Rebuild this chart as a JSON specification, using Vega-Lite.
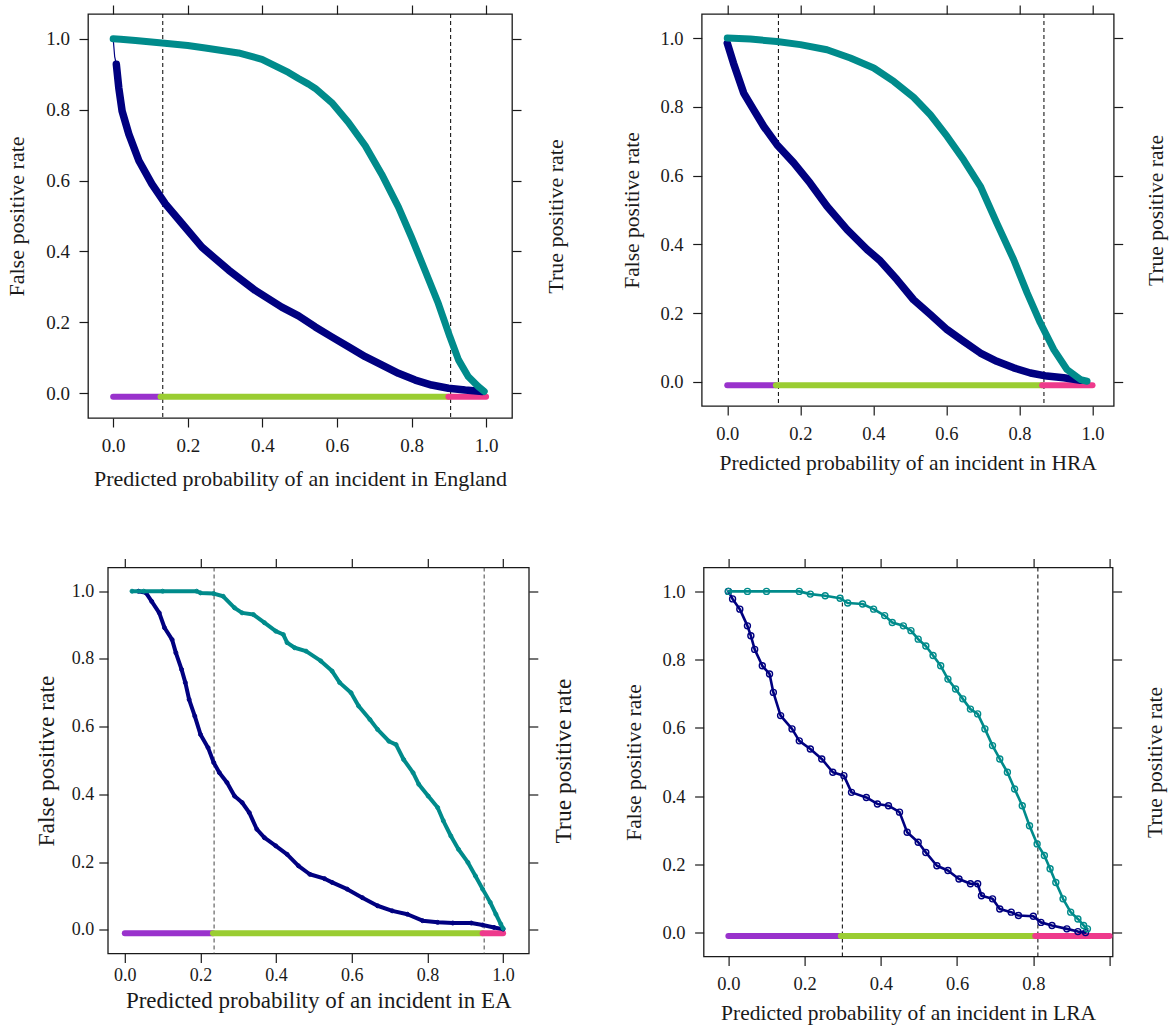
{
"$schema": "https://vega.github.io/schema/vega-lite/v6.json",
"background": "white",
"padding": {"left": 4, "top": 3, "right": 2, "bottom": 5},
"config": {
  "font": "Liberation Serif",
  "view": {"stroke": "#1a1a1a", "strokeWidth": 1.3},
  "axis": {"grid": false, "domain": false, "ticks": true, "tickColor": "#1a1a1a", "tickWidth": 1.2, "tickSize": 9, "labelColor": "#1a1a1a", "titleColor": "#1a1a1a", "labelFont": "Liberation Serif", "titleFont": "Liberation Serif", "titleFontWeight": "normal", "labelFlush": false, "labelOverlap": false, "labelBound": false},
  "line": {"strokeJoin": "round", "strokeCap": "round"}
},
"datasets": {
  "thr": [
    {"r": "England", "t": 0.133}, {"r": "England", "t": 0.905},
    {"r": "HRA", "t": 0.14}, {"r": "HRA", "t": 0.867},
    {"r": "EA", "t": 0.236}, {"r": "EA", "t": 0.95},
    {"r": "LRA", "t": 0.299}, {"r": "LRA", "t": 0.812}
  ],
  "seg": [
    {"r": "England", "z": "low", "a": 0, "b": 0.127}, {"r": "England", "z": "mid", "a": 0.127, "b": 0.899}, {"r": "England", "z": "high", "a": 0.899, "b": 1.0},
    {"r": "HRA", "z": "low", "a": 0, "b": 0.133}, {"r": "HRA", "z": "mid", "a": 0.133, "b": 0.862}, {"r": "HRA", "z": "high", "a": 0.862, "b": 1.0},
    {"r": "EA", "z": "low", "a": 0, "b": 0.233}, {"r": "EA", "z": "mid", "a": 0.233, "b": 0.946}, {"r": "EA", "z": "high", "a": 0.946, "b": 1.0},
    {"r": "LRA", "z": "low", "a": 0, "b": 0.295}, {"r": "LRA", "z": "mid", "a": 0.295, "b": 0.805}, {"r": "LRA", "z": "high", "a": 0.805, "b": 1.0}
  ],
  "curves": [
    {"r":"England","m":"TPR","p":0,"v":1.0},{"r":"England","m":"TPR","p":0.02,"v":0.999},{"r":"England","m":"TPR","p":0.06,"v":0.995},{"r":"England","m":"TPR","p":0.131,"v":0.988},{"r":"England","m":"TPR","p":0.2,"v":0.981},{"r":"England","m":"TPR","p":0.247,"v":0.974},{"r":"England","m":"TPR","p":0.336,"v":0.96},{"r":"England","m":"TPR","p":0.399,"v":0.942},{"r":"England","m":"TPR","p":0.47,"v":0.905},{"r":"England","m":"TPR","p":0.497,"v":0.888},{"r":"England","m":"TPR","p":0.524,"v":0.872},{"r":"England","m":"TPR","p":0.542,"v":0.86},{"r":"England","m":"TPR","p":0.586,"v":0.82},{"r":"England","m":"TPR","p":0.631,"v":0.764},{"r":"England","m":"TPR","p":0.676,"v":0.698},{"r":"England","m":"TPR","p":0.72,"v":0.618},{"r":"England","m":"TPR","p":0.765,"v":0.525},{"r":"England","m":"TPR","p":0.8,"v":0.44},{"r":"England","m":"TPR","p":0.836,"v":0.347},{"r":"England","m":"TPR","p":0.872,"v":0.253},{"r":"England","m":"TPR","p":0.903,"v":0.159},{"r":"England","m":"TPR","p":0.926,"v":0.094},{"r":"England","m":"TPR","p":0.952,"v":0.047},{"r":"England","m":"TPR","p":0.979,"v":0.019},{"r":"England","m":"TPR","p":0.995,"v":0.005},
    {"r":"England","m":"FPR","p":0,"v":1.0},{"r":"England","m":"FPR","p":0.004,"v":0.95},{"r":"England","m":"FPR","p":0.0085,"v":0.928},{"r":"England","m":"FPR","p":0.015,"v":0.862},{"r":"England","m":"FPR","p":0.024,"v":0.796},{"r":"England","m":"FPR","p":0.042,"v":0.731},{"r":"England","m":"FPR","p":0.069,"v":0.656},{"r":"England","m":"FPR","p":0.104,"v":0.59},{"r":"England","m":"FPR","p":0.14,"v":0.534},{"r":"England","m":"FPR","p":0.185,"v":0.478},{"r":"England","m":"FPR","p":0.238,"v":0.412},{"r":"England","m":"FPR","p":0.31,"v":0.347},{"r":"England","m":"FPR","p":0.381,"v":0.29},{"r":"England","m":"FPR","p":0.452,"v":0.243},{"r":"England","m":"FPR","p":0.497,"v":0.218},{"r":"England","m":"FPR","p":0.542,"v":0.187},{"r":"England","m":"FPR","p":0.586,"v":0.159},{"r":"England","m":"FPR","p":0.631,"v":0.131},{"r":"England","m":"FPR","p":0.676,"v":0.103},{"r":"England","m":"FPR","p":0.72,"v":0.08},{"r":"England","m":"FPR","p":0.765,"v":0.056},{"r":"England","m":"FPR","p":0.81,"v":0.037},{"r":"England","m":"FPR","p":0.854,"v":0.023},{"r":"England","m":"FPR","p":0.899,"v":0.014},{"r":"England","m":"FPR","p":0.944,"v":0.009},{"r":"England","m":"FPR","p":0.99,"v":0.005},
    {"r":"HRA","m":"TPR","p":0,"v":1.0},{"r":"HRA","m":"TPR","p":0.063,"v":0.997},{"r":"HRA","m":"TPR","p":0.136,"v":0.99},{"r":"HRA","m":"TPR","p":0.2,"v":0.981},{"r":"HRA","m":"TPR","p":0.273,"v":0.966},{"r":"HRA","m":"TPR","p":0.337,"v":0.942},{"r":"HRA","m":"TPR","p":0.401,"v":0.913},{"r":"HRA","m":"TPR","p":0.456,"v":0.874},{"r":"HRA","m":"TPR","p":0.51,"v":0.828},{"r":"HRA","m":"TPR","p":0.556,"v":0.777},{"r":"HRA","m":"TPR","p":0.602,"v":0.714},{"r":"HRA","m":"TPR","p":0.647,"v":0.646},{"r":"HRA","m":"TPR","p":0.693,"v":0.569},{"r":"HRA","m":"TPR","p":0.738,"v":0.462},{"r":"HRA","m":"TPR","p":0.784,"v":0.356},{"r":"HRA","m":"TPR","p":0.821,"v":0.259},{"r":"HRA","m":"TPR","p":0.857,"v":0.172},{"r":"HRA","m":"TPR","p":0.894,"v":0.094},{"r":"HRA","m":"TPR","p":0.93,"v":0.036},{"r":"HRA","m":"TPR","p":0.967,"v":0.007},{"r":"HRA","m":"TPR","p":0.985,"v":0.002},
    {"r":"HRA","m":"FPR","p":0,"v":0.985},{"r":"HRA","m":"FPR","p":0.017,"v":0.927},{"r":"HRA","m":"FPR","p":0.045,"v":0.84},{"r":"HRA","m":"FPR","p":0.072,"v":0.792},{"r":"HRA","m":"FPR","p":0.1,"v":0.743},{"r":"HRA","m":"FPR","p":0.136,"v":0.69},{"r":"HRA","m":"FPR","p":0.182,"v":0.637},{"r":"HRA","m":"FPR","p":0.227,"v":0.578},{"r":"HRA","m":"FPR","p":0.273,"v":0.511},{"r":"HRA","m":"FPR","p":0.328,"v":0.443},{"r":"HRA","m":"FPR","p":0.383,"v":0.385},{"r":"HRA","m":"FPR","p":0.419,"v":0.352},{"r":"HRA","m":"FPR","p":0.465,"v":0.297},{"r":"HRA","m":"FPR","p":0.51,"v":0.239},{"r":"HRA","m":"FPR","p":0.556,"v":0.196},{"r":"HRA","m":"FPR","p":0.602,"v":0.152},{"r":"HRA","m":"FPR","p":0.647,"v":0.118},{"r":"HRA","m":"FPR","p":0.693,"v":0.084},{"r":"HRA","m":"FPR","p":0.738,"v":0.06},{"r":"HRA","m":"FPR","p":0.784,"v":0.041},{"r":"HRA","m":"FPR","p":0.83,"v":0.026},{"r":"HRA","m":"FPR","p":0.875,"v":0.017},{"r":"HRA","m":"FPR","p":0.921,"v":0.012},{"r":"HRA","m":"FPR","p":0.967,"v":0.005},
    {"r":"EA","m":"TPR","p":0.019,"v":1.0},{"r":"EA","m":"TPR","p":0.05,"v":1.0},{"r":"EA","m":"TPR","p":0.1,"v":1.0},{"r":"EA","m":"TPR","p":0.19,"v":1.0},{"r":"EA","m":"TPR","p":0.2,"v":0.995},{"r":"EA","m":"TPR","p":0.235,"v":0.993},{"r":"EA","m":"TPR","p":0.26,"v":0.985},{"r":"EA","m":"TPR","p":0.29,"v":0.951},{"r":"EA","m":"TPR","p":0.31,"v":0.936},{"r":"EA","m":"TPR","p":0.34,"v":0.931},{"r":"EA","m":"TPR","p":0.369,"v":0.907},{"r":"EA","m":"TPR","p":0.399,"v":0.882},{"r":"EA","m":"TPR","p":0.419,"v":0.872},{"r":"EA","m":"TPR","p":0.429,"v":0.848},{"r":"EA","m":"TPR","p":0.449,"v":0.833},{"r":"EA","m":"TPR","p":0.479,"v":0.823},{"r":"EA","m":"TPR","p":0.518,"v":0.794},{"r":"EA","m":"TPR","p":0.548,"v":0.764},{"r":"EA","m":"TPR","p":0.568,"v":0.73},{"r":"EA","m":"TPR","p":0.598,"v":0.7},{"r":"EA","m":"TPR","p":0.618,"v":0.661},{"r":"EA","m":"TPR","p":0.648,"v":0.621},{"r":"EA","m":"TPR","p":0.668,"v":0.592},{"r":"EA","m":"TPR","p":0.698,"v":0.557},{"r":"EA","m":"TPR","p":0.717,"v":0.547},{"r":"EA","m":"TPR","p":0.737,"v":0.503},{"r":"EA","m":"TPR","p":0.762,"v":0.464},{"r":"EA","m":"TPR","p":0.777,"v":0.43},{"r":"EA","m":"TPR","p":0.802,"v":0.395},{"r":"EA","m":"TPR","p":0.827,"v":0.361},{"r":"EA","m":"TPR","p":0.842,"v":0.322},{"r":"EA","m":"TPR","p":0.862,"v":0.277},{"r":"EA","m":"TPR","p":0.882,"v":0.238},{"r":"EA","m":"TPR","p":0.907,"v":0.199},{"r":"EA","m":"TPR","p":0.927,"v":0.159},{"r":"EA","m":"TPR","p":0.946,"v":0.12},{"r":"EA","m":"TPR","p":0.966,"v":0.081},{"r":"EA","m":"TPR","p":0.981,"v":0.046},{"r":"EA","m":"TPR","p":0.994,"v":0.017},{"r":"EA","m":"TPR","p":1.0,"v":0.004},
    {"r":"EA","m":"FPR","p":0.036,"v":1.0},{"r":"EA","m":"FPR","p":0.056,"v":0.995},{"r":"EA","m":"FPR","p":0.071,"v":0.97},{"r":"EA","m":"FPR","p":0.091,"v":0.936},{"r":"EA","m":"FPR","p":0.105,"v":0.892},{"r":"EA","m":"FPR","p":0.125,"v":0.857},{"r":"EA","m":"FPR","p":0.135,"v":0.818},{"r":"EA","m":"FPR","p":0.15,"v":0.769},{"r":"EA","m":"FPR","p":0.16,"v":0.73},{"r":"EA","m":"FPR","p":0.17,"v":0.68},{"r":"EA","m":"FPR","p":0.185,"v":0.631},{"r":"EA","m":"FPR","p":0.2,"v":0.577},{"r":"EA","m":"FPR","p":0.22,"v":0.538},{"r":"EA","m":"FPR","p":0.235,"v":0.494},{"r":"EA","m":"FPR","p":0.25,"v":0.464},{"r":"EA","m":"FPR","p":0.27,"v":0.435},{"r":"EA","m":"FPR","p":0.29,"v":0.395},{"r":"EA","m":"FPR","p":0.31,"v":0.376},{"r":"EA","m":"FPR","p":0.329,"v":0.346},{"r":"EA","m":"FPR","p":0.349,"v":0.297},{"r":"EA","m":"FPR","p":0.369,"v":0.272},{"r":"EA","m":"FPR","p":0.399,"v":0.248},{"r":"EA","m":"FPR","p":0.429,"v":0.223},{"r":"EA","m":"FPR","p":0.459,"v":0.189},{"r":"EA","m":"FPR","p":0.489,"v":0.164},{"r":"EA","m":"FPR","p":0.528,"v":0.151},{"r":"EA","m":"FPR","p":0.548,"v":0.14},{"r":"EA","m":"FPR","p":0.588,"v":0.12},{"r":"EA","m":"FPR","p":0.628,"v":0.095},{"r":"EA","m":"FPR","p":0.668,"v":0.071},{"r":"EA","m":"FPR","p":0.707,"v":0.056},{"r":"EA","m":"FPR","p":0.747,"v":0.046},{"r":"EA","m":"FPR","p":0.787,"v":0.027},{"r":"EA","m":"FPR","p":0.827,"v":0.022},{"r":"EA","m":"FPR","p":0.867,"v":0.02},{"r":"EA","m":"FPR","p":0.916,"v":0.02},{"r":"EA","m":"FPR","p":0.946,"v":0.014},{"r":"EA","m":"FPR","p":0.976,"v":0.007},{"r":"EA","m":"FPR","p":1.0,"v":0.002},
    {"r":"LRA","m":"TPR","p":0,"v":1.0},{"r":"LRA","m":"TPR","p":0.05,"v":1.0},{"r":"LRA","m":"TPR","p":0.1,"v":1.0},{"r":"LRA","m":"TPR","p":0.186,"v":1.0},{"r":"LRA","m":"TPR","p":0.215,"v":0.992},{"r":"LRA","m":"TPR","p":0.254,"v":0.987},{"r":"LRA","m":"TPR","p":0.293,"v":0.98},{"r":"LRA","m":"TPR","p":0.313,"v":0.966},{"r":"LRA","m":"TPR","p":0.352,"v":0.963},{"r":"LRA","m":"TPR","p":0.381,"v":0.948},{"r":"LRA","m":"TPR","p":0.41,"v":0.929},{"r":"LRA","m":"TPR","p":0.43,"v":0.909},{"r":"LRA","m":"TPR","p":0.459,"v":0.899},{"r":"LRA","m":"TPR","p":0.479,"v":0.885},{"r":"LRA","m":"TPR","p":0.498,"v":0.86},{"r":"LRA","m":"TPR","p":0.518,"v":0.84},{"r":"LRA","m":"TPR","p":0.537,"v":0.812},{"r":"LRA","m":"TPR","p":0.557,"v":0.782},{"r":"LRA","m":"TPR","p":0.576,"v":0.743},{"r":"LRA","m":"TPR","p":0.596,"v":0.714},{"r":"LRA","m":"TPR","p":0.615,"v":0.685},{"r":"LRA","m":"TPR","p":0.635,"v":0.655},{"r":"LRA","m":"TPR","p":0.654,"v":0.641},{"r":"LRA","m":"TPR","p":0.673,"v":0.597},{"r":"LRA","m":"TPR","p":0.693,"v":0.548},{"r":"LRA","m":"TPR","p":0.712,"v":0.509},{"r":"LRA","m":"TPR","p":0.732,"v":0.47},{"r":"LRA","m":"TPR","p":0.751,"v":0.421},{"r":"LRA","m":"TPR","p":0.771,"v":0.372},{"r":"LRA","m":"TPR","p":0.79,"v":0.313},{"r":"LRA","m":"TPR","p":0.81,"v":0.26},{"r":"LRA","m":"TPR","p":0.829,"v":0.226},{"r":"LRA","m":"TPR","p":0.844,"v":0.187},{"r":"LRA","m":"TPR","p":0.859,"v":0.147},{"r":"LRA","m":"TPR","p":0.878,"v":0.099},{"r":"LRA","m":"TPR","p":0.898,"v":0.06},{"r":"LRA","m":"TPR","p":0.917,"v":0.04},{"r":"LRA","m":"TPR","p":0.932,"v":0.021},{"r":"LRA","m":"TPR","p":0.942,"v":0.011},
    {"r":"LRA","m":"FPR","p":0,"v":1.0},{"r":"LRA","m":"FPR","p":0.011,"v":0.978},{"r":"LRA","m":"FPR","p":0.03,"v":0.948},{"r":"LRA","m":"FPR","p":0.05,"v":0.899},{"r":"LRA","m":"FPR","p":0.059,"v":0.87},{"r":"LRA","m":"FPR","p":0.069,"v":0.83},{"r":"LRA","m":"FPR","p":0.089,"v":0.782},{"r":"LRA","m":"FPR","p":0.108,"v":0.758},{"r":"LRA","m":"FPR","p":0.118,"v":0.704},{"r":"LRA","m":"FPR","p":0.137,"v":0.636},{"r":"LRA","m":"FPR","p":0.167,"v":0.597},{"r":"LRA","m":"FPR","p":0.186,"v":0.562},{"r":"LRA","m":"FPR","p":0.215,"v":0.538},{"r":"LRA","m":"FPR","p":0.245,"v":0.509},{"r":"LRA","m":"FPR","p":0.274,"v":0.47},{"r":"LRA","m":"FPR","p":0.303,"v":0.46},{"r":"LRA","m":"FPR","p":0.323,"v":0.411},{"r":"LRA","m":"FPR","p":0.362,"v":0.396},{"r":"LRA","m":"FPR","p":0.391,"v":0.377},{"r":"LRA","m":"FPR","p":0.42,"v":0.372},{"r":"LRA","m":"FPR","p":0.449,"v":0.353},{"r":"LRA","m":"FPR","p":0.469,"v":0.294},{"r":"LRA","m":"FPR","p":0.498,"v":0.265},{"r":"LRA","m":"FPR","p":0.518,"v":0.235},{"r":"LRA","m":"FPR","p":0.547,"v":0.196},{"r":"LRA","m":"FPR","p":0.576,"v":0.182},{"r":"LRA","m":"FPR","p":0.605,"v":0.157},{"r":"LRA","m":"FPR","p":0.635,"v":0.143},{"r":"LRA","m":"FPR","p":0.654,"v":0.143},{"r":"LRA","m":"FPR","p":0.664,"v":0.108},{"r":"LRA","m":"FPR","p":0.693,"v":0.099},{"r":"LRA","m":"FPR","p":0.712,"v":0.069},{"r":"LRA","m":"FPR","p":0.742,"v":0.06},{"r":"LRA","m":"FPR","p":0.761,"v":0.05},{"r":"LRA","m":"FPR","p":0.8,"v":0.048},{"r":"LRA","m":"FPR","p":0.82,"v":0.03},{"r":"LRA","m":"FPR","p":0.849,"v":0.021},{"r":"LRA","m":"FPR","p":0.888,"v":0.011},{"r":"LRA","m":"FPR","p":0.917,"v":0.003},{"r":"LRA","m":"FPR","p":0.937,"v":0.0}
  ]
},
"bounds": "full",
"spacing": 65.5,
"vconcat": [
 {
  "hconcat": [
  {
    "width": 424, "height": 404,
    "resolve": {"axis": {"x": "independent", "y": "independent"}},
    "layer": [
      {"data": {"name": "thr"}, "transform": [{"filter": "datum.r === 'England'"}],
       "mark": {"type": "rule", "strokeDash": [4, 3], "color": "#000", "strokeWidth": 1},
       "encoding": {"x": {"field": "t", "type": "quantitative", "scale": {"domain": [-0.0675, 1.0695], "nice": false, "zero": false}, "axis": null}}},
      {"data": {"name": "seg"}, "transform": [{"filter": "datum.r === 'England'"}],
       "mark": {"type": "rule", "strokeWidth": 6, "strokeCap": "round"},
       "encoding": {
         "x": {"field": "a", "type": "quantitative", "scale": {"domain": [-0.0675, 1.0695], "nice": false, "zero": false}, "axis": null},
         "x2": {"field": "b"},
         "y": {"datum": -0.01, "type": "quantitative", "scale": {"domain": [-0.07, 1.07], "nice": false, "zero": false}, "axis": null},
         "color": {"field": "z", "type": "nominal", "scale": {"domain": ["low", "mid", "high"], "range": ["#9932CC", "#9ACD32", "#EE3A8C"]}, "legend": null}}},
      {"data": {"name": "curves"}, "transform": [{"filter": "datum.r === 'England' && datum.m === 'FPR'"}],
       "mark": {"type": "line", "color": "#000080", "strokeWidth": 1.2},
       "encoding": {
         "x": {"field": "p", "type": "quantitative", "scale": {"domain": [-0.0675, 1.0695], "nice": false, "zero": false}, "axis": null},
         "y": {"field": "v", "type": "quantitative", "scale": {"domain": [-0.07, 1.07], "nice": false, "zero": false}, "axis": null}}},
      {"data": {"name": "curves"}, "transform": [{"filter": "datum.r === 'England' && datum.m === 'FPR' && datum.p > 0.006"}],
       "mark": {"type": "line", "color": "#000080", "strokeWidth": 7.5},
       "encoding": {
         "x": {"field": "p", "type": "quantitative", "scale": {"domain": [-0.0675, 1.0695], "nice": false, "zero": false}, "axis": {"orient": "top", "values": [0, 0.2, 0.4, 0.6, 0.8, 1], "labels": false, "title": null}},
         "y": {"field": "v", "type": "quantitative", "scale": {"domain": [-0.07, 1.07], "nice": false, "zero": false}, "axis": {"orient": "right", "values": [0, 0.2, 0.4, 0.6, 0.8, 1], "labels": false, "title": "True positive rate", "titleAngle": 270, "titleBaseline": "top", "titlePadding": 24, "titleFontSize": 22}}}},
      {"data": {"name": "curves"}, "transform": [{"filter": "datum.r === 'England' && datum.m === 'TPR'"}],
       "mark": {"type": "line", "color": "#008B8B", "strokeWidth": 7},
       "encoding": {
         "x": {"field": "p", "type": "quantitative", "scale": {"domain": [-0.0675, 1.0695], "nice": false, "zero": false}, "axis": {"orient": "bottom", "values": [0, 0.2, 0.4, 0.6, 0.8, 1], "format": ".1f", "title": "Predicted probability of an incident in England", "labelFontSize": 19, "labelPadding": 9.4, "titleFontSize": 22, "titlePadding": 13}},
         "y": {"field": "v", "type": "quantitative", "scale": {"domain": [-0.07, 1.07], "nice": false, "zero": false}, "axis": {"orient": "left", "values": [0, 0.2, 0.4, 0.6, 0.8, 1], "format": ".1f", "title": "False positive rate", "labelFontSize": 19, "labelPadding": 9.4, "titleFontSize": 22, "titlePadding": 17.7}}}}
    ]
  },
  {
    "width": 412, "height": 392,
    "resolve": {"axis": {"x": "independent", "y": "independent"}},
    "layer": [
      {"data": {"name": "thr"}, "transform": [{"filter": "datum.r === 'HRA'"}],
       "mark": {"type": "rule", "strokeDash": [4, 3], "color": "#000", "strokeWidth": 1},
       "encoding": {"x": {"field": "t", "type": "quantitative", "scale": {"domain": [-0.07, 1.058], "nice": false, "zero": false}, "axis": null}}},
      {"data": {"name": "seg"}, "transform": [{"filter": "datum.r === 'HRA'"}],
       "mark": {"type": "rule", "strokeWidth": 6, "strokeCap": "round"},
       "encoding": {
         "x": {"field": "a", "type": "quantitative", "scale": {"domain": [-0.07, 1.058], "nice": false, "zero": false}, "axis": null},
         "x2": {"field": "b"},
         "y": {"datum": -0.01, "type": "quantitative", "scale": {"domain": [-0.07, 1.07], "nice": false, "zero": false}, "axis": null},
         "color": {"field": "z", "type": "nominal", "scale": {"domain": ["low", "mid", "high"], "range": ["#9932CC", "#9ACD32", "#EE3A8C"]}, "legend": null}}},
      {"data": {"name": "curves"}, "transform": [{"filter": "datum.r === 'HRA' && datum.m === 'FPR'"}],
       "mark": {"type": "line", "color": "#000080", "strokeWidth": 7.5},
       "encoding": {
         "x": {"field": "p", "type": "quantitative", "scale": {"domain": [-0.07, 1.058], "nice": false, "zero": false}, "axis": {"orient": "top", "values": [0, 0.2, 0.4, 0.6, 0.8, 1], "labels": false, "title": null}},
         "y": {"field": "v", "type": "quantitative", "scale": {"domain": [-0.07, 1.07], "nice": false, "zero": false}, "axis": {"orient": "right", "values": [0, 0.2, 0.4, 0.6, 0.8, 1], "labels": false, "title": "True positive rate", "titleAngle": 270, "titleBaseline": "top", "titlePadding": 22.4, "titleFontSize": 21.5}}}},
      {"data": {"name": "curves"}, "transform": [{"filter": "datum.r === 'HRA' && datum.m === 'TPR'"}],
       "mark": {"type": "line", "color": "#008B8B", "strokeWidth": 7},
       "encoding": {
         "x": {"field": "p", "type": "quantitative", "scale": {"domain": [-0.07, 1.058], "nice": false, "zero": false}, "axis": {"orient": "bottom", "values": [0, 0.2, 0.4, 0.6, 0.8, 1], "format": ".1f", "title": "Predicted probability of an incident in HRA", "labelFontSize": 18.5, "labelPadding": 9.6, "titleFontSize": 21.5, "titlePadding": 9.4}},
         "y": {"field": "v", "type": "quantitative", "scale": {"domain": [-0.07, 1.07], "nice": false, "zero": false}, "axis": {"orient": "left", "values": [0, 0.2, 0.4, 0.6, 0.8, 1], "format": ".1f", "title": "False positive rate", "labelFontSize": 18.5, "labelPadding": 9.6, "titleFontSize": 21.5, "titlePadding": 16.4}}}}
    ]
  }
  ],
  "spacing": 52.7,
  "bounds": "full"
 },
 {
  "hconcat": [
   {"width": 1, "height": 1, "view": {"stroke": null}, "data": {"values": [{"k": 0}]}, "mark": {"type": "point", "opacity": 0}, "encoding": {}},
   {
    "hconcat": [
    {
      "width": 421, "height": 386,
      "resolve": {"axis": {"x": "independent", "y": "independent"}},
      "layer": [
        {"data": {"name": "thr"}, "transform": [{"filter": "datum.r === 'EA'"}],
         "mark": {"type": "rule", "strokeDash": [4, 3], "color": "#444", "strokeWidth": 1},
         "encoding": {"x": {"field": "t", "type": "quantitative", "scale": {"domain": [-0.045, 1.068], "nice": false, "zero": false}, "axis": null}}},
        {"data": {"name": "seg"}, "transform": [{"filter": "datum.r === 'EA'"}],
         "mark": {"type": "rule", "strokeWidth": 6, "strokeCap": "round"},
         "encoding": {
           "x": {"field": "a", "type": "quantitative", "scale": {"domain": [-0.045, 1.068], "nice": false, "zero": false}, "axis": null},
           "x2": {"field": "b"},
           "y": {"datum": -0.01, "type": "quantitative", "scale": {"domain": [-0.07, 1.07], "nice": false, "zero": false}, "axis": null},
           "color": {"field": "z", "type": "nominal", "scale": {"domain": ["low", "mid", "high"], "range": ["#9932CC", "#9ACD32", "#EE3A8C"]}, "legend": null}}},
        {"data": {"name": "curves"}, "transform": [{"filter": "datum.r === 'EA' && datum.m === 'FPR'"}],
         "mark": {"type": "line", "color": "#000080", "strokeWidth": 4},
         "encoding": {
           "x": {"field": "p", "type": "quantitative", "scale": {"domain": [-0.045, 1.068], "nice": false, "zero": false}, "axis": {"orient": "top", "values": [0, 0.2, 0.4, 0.6, 0.8, 1], "labels": false, "title": null}},
           "y": {"field": "v", "type": "quantitative", "scale": {"domain": [-0.07, 1.07], "nice": false, "zero": false}, "axis": {"orient": "right", "values": [0, 0.2, 0.4, 0.6, 0.8, 1], "labels": false, "title": "True positive rate", "titleAngle": 270, "titleBaseline": "top", "titlePadding": 13.5, "titleFontSize": 23.5}}}},
        {"data": {"name": "curves"}, "transform": [{"filter": "datum.r === 'EA' && datum.m === 'FPR'"}],
         "mark": {"type": "point", "color": "#000080", "filled": false, "size": 16, "strokeWidth": 1, "opacity": 1},
         "encoding": {
           "x": {"field": "p", "type": "quantitative", "scale": {"domain": [-0.045, 1.068], "nice": false, "zero": false}, "axis": null},
           "y": {"field": "v", "type": "quantitative", "scale": {"domain": [-0.07, 1.07], "nice": false, "zero": false}, "axis": null}}},
        {"data": {"name": "curves"}, "transform": [{"filter": "datum.r === 'EA' && datum.m === 'TPR'"}],
         "mark": {"type": "line", "color": "#008B8B", "strokeWidth": 4},
         "encoding": {
           "x": {"field": "p", "type": "quantitative", "scale": {"domain": [-0.045, 1.068], "nice": false, "zero": false}, "axis": {"orient": "bottom", "values": [0, 0.2, 0.4, 0.6, 0.8, 1], "format": ".1f", "title": "Predicted probability of an incident in EA", "labelFontSize": 18, "labelPadding": 3.9, "titleFontSize": 23, "titlePadding": 4.9}},
           "y": {"field": "v", "type": "quantitative", "scale": {"domain": [-0.07, 1.07], "nice": false, "zero": false}, "axis": {"orient": "left", "values": [0, 0.2, 0.4, 0.6, 0.8, 1], "format": ".1f", "title": "False positive rate", "labelFontSize": 18, "labelPadding": 5, "titleFontSize": 23.5, "titlePadding": 13.2}}}},
        {"data": {"name": "curves"}, "transform": [{"filter": "datum.r === 'EA' && datum.m === 'TPR'"}],
         "mark": {"type": "point", "color": "#008B8B", "filled": false, "size": 16, "strokeWidth": 1, "opacity": 1},
         "encoding": {
           "x": {"field": "p", "type": "quantitative", "scale": {"domain": [-0.045, 1.068], "nice": false, "zero": false}, "axis": null},
           "y": {"field": "v", "type": "quantitative", "scale": {"domain": [-0.07, 1.07], "nice": false, "zero": false}, "axis": null}}}
      ]
    },
    {
      "width": 409, "height": 389,
      "resolve": {"axis": {"x": "independent", "y": "independent"}},
      "layer": [
        {"data": {"name": "thr"}, "transform": [{"filter": "datum.r === 'LRA'"}],
         "mark": {"type": "rule", "strokeDash": [4, 3], "color": "#000", "strokeWidth": 1},
         "encoding": {"x": {"field": "t", "type": "quantitative", "scale": {"domain": [-0.065, 1.008], "nice": false, "zero": false}, "axis": null}}},
        {"data": {"name": "seg"}, "transform": [{"filter": "datum.r === 'LRA'"}],
         "mark": {"type": "rule", "strokeWidth": 6, "strokeCap": "round"},
         "encoding": {
           "x": {"field": "a", "type": "quantitative", "scale": {"domain": [-0.065, 1.008], "nice": false, "zero": false}, "axis": null},
           "x2": {"field": "b"},
           "y": {"datum": -0.01, "type": "quantitative", "scale": {"domain": [-0.07, 1.07], "nice": false, "zero": false}, "axis": null},
           "color": {"field": "z", "type": "nominal", "scale": {"domain": ["low", "mid", "high"], "range": ["#9932CC", "#9ACD32", "#EE3A8C"]}, "legend": null}}},
        {"data": {"name": "curves"}, "transform": [{"filter": "datum.r === 'LRA' && datum.m === 'FPR'"}],
         "mark": {"type": "line", "color": "#000080", "strokeWidth": 2.6},
         "encoding": {
           "x": {"field": "p", "type": "quantitative", "scale": {"domain": [-0.065, 1.008], "nice": false, "zero": false}, "axis": {"orient": "top", "values": [0, 0.2, 0.4, 0.6, 0.8, 1], "labels": false, "title": null}},
           "y": {"field": "v", "type": "quantitative", "scale": {"domain": [-0.07, 1.07], "nice": false, "zero": false}, "axis": {"orient": "right", "values": [0, 0.2, 0.4, 0.6, 0.8, 1], "labels": false, "title": "True positive rate", "titleAngle": 270, "titleBaseline": "top", "titlePadding": 22.5, "titleFontSize": 21.5}}}},
        {"data": {"name": "curves"}, "transform": [{"filter": "datum.r === 'LRA' && datum.m === 'FPR'"}],
         "mark": {"type": "point", "color": "#000080", "filled": false, "size": 36, "strokeWidth": 1.4, "opacity": 1},
         "encoding": {
           "x": {"field": "p", "type": "quantitative", "scale": {"domain": [-0.065, 1.008], "nice": false, "zero": false}, "axis": null},
           "y": {"field": "v", "type": "quantitative", "scale": {"domain": [-0.07, 1.07], "nice": false, "zero": false}, "axis": null}}},
        {"data": {"name": "curves"}, "transform": [{"filter": "datum.r === 'LRA' && datum.m === 'TPR'"}],
         "mark": {"type": "line", "color": "#008B8B", "strokeWidth": 2.6},
         "encoding": {
           "x": {"field": "p", "type": "quantitative", "scale": {"domain": [-0.065, 1.008], "nice": false, "zero": false}, "axis": {"orient": "bottom", "values": [0, 0.2, 0.4, 0.6, 0.8, 1], "format": ".1f", "labelExpr": "datum.value >= 0.99 ? '' : datum.label", "title": "Predicted probability of an incident in LRA", "labelFontSize": 18.5, "labelPadding": 8.6, "titleFontSize": 21.5, "titlePadding": 9.9}},
           "y": {"field": "v", "type": "quantitative", "scale": {"domain": [-0.07, 1.07], "nice": false, "zero": false}, "axis": {"orient": "left", "values": [0, 0.2, 0.4, 0.6, 0.8, 1], "format": ".1f", "title": "False positive rate", "labelFontSize": 18.5, "labelPadding": 9.5, "titleFontSize": 21.5, "titlePadding": 16.4}}}},
        {"data": {"name": "curves"}, "transform": [{"filter": "datum.r === 'LRA' && datum.m === 'TPR'"}],
         "mark": {"type": "point", "color": "#008B8B", "filled": false, "size": 36, "strokeWidth": 1.4, "opacity": 1},
         "encoding": {
           "x": {"field": "p", "type": "quantitative", "scale": {"domain": [-0.065, 1.008], "nice": false, "zero": false}, "axis": null},
           "y": {"field": "v", "type": "quantitative", "scale": {"domain": [-0.07, 1.07], "nice": false, "zero": false}, "axis": null}}}
      ]
    }
    ],
    "spacing": 45.8,
    "bounds": "full"
   }
  ],
  "spacing": 18.8,
  "bounds": "flush"
 }
]
}
